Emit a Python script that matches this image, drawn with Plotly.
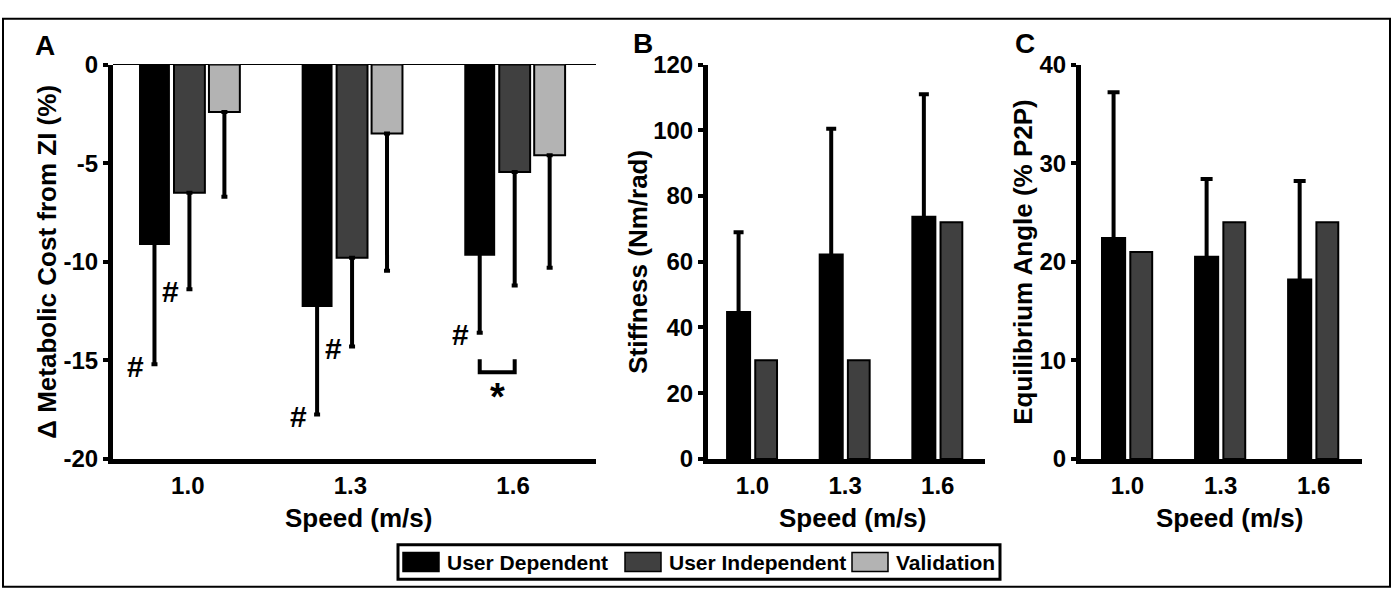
import plotly.graph_objects as go

W, H = 1394, 597

speeds = ["1.0", "1.3", "1.6"]
series = ["User Dependent", "User Independent", "Validation"]
colors = ["#000000", "#404040", "#b3b3b3"]

# Panel A: change in metabolic cost from zero impedance (%)
metab_ud = [-9.15, -12.3, -9.7]
metab_ud_sd = [6.05, 5.45, 3.9]
metab_ui = [-6.5, -9.8, -5.45]
metab_ui_sd = [4.9, 4.5, 5.75]
metab_val = [-2.4, -3.5, -4.6]
metab_val_sd = [4.3, 6.95, 5.7]
metab_ticks = [-20, -15, -10, -5, 0]

# Panel B: stiffness (Nm/rad)
stiff_ud = [45, 62.5, 74]
stiff_ud_sd = [24, 38, 37]
stiff_ui = [30, 30, 72]
stiff_ticks = [0, 20, 40, 60, 80, 100, 120]

# Panel C: equilibrium angle (% P2P)
eq_ud = [22.5, 20.6, 18.3]
eq_ud_sd = [14.7, 7.8, 9.9]
eq_ui = [21, 24, 24]
eq_ticks = [0, 10, 20, 30, 40]

# significance vs zero impedance (#): (series index, speed index)
hash_marks = [(0, 0), (1, 0), (0, 1), (1, 1), (0, 2)]
# significance between user dependent and user independent (*)
star_speed = 2
star_level = [-14.95, -15.6]

FONT = "Liberation Sans, Arial, sans-serif"


def px_x(x):
    return x / W


def px_y(y):
    return 1 - y / H


def hidden_cap(values, frac):
    # keeps the inner cap of a one-sided error bar hidden inside the (black) bar
    return [abs(v) * frac for v in values]


fig = go.Figure()

# ---- Panel A ----
a_off = [-0.30, -0.085, 0.13]
a_wid = 0.19
a_vals = [metab_ud, metab_ui, metab_val]
a_sds = [metab_ud_sd, metab_ui_sd, metab_val_sd]
for i in range(3):
    inner = hidden_cap(a_vals[i], 0.15) if i == 0 else [0, 0, 0]
    fig.add_trace(go.Bar(
        x=speeds, y=a_vals[i], xaxis="x", yaxis="y",
        name=series[i], showlegend=False,
        offset=a_off[i], width=a_wid,
        marker=dict(color=colors[i], line=dict(color="black", width=0 if i == 0 else 2)),
        error_y=dict(type="data", symmetric=False, array=inner, arrayminus=a_sds[i],
                     color="black", thickness=4, width=3),
    ))

# ---- Panel B ----
bc_off = [-0.285, 0.03]
bc_wid = [0.27, 0.235]
fig.add_trace(go.Bar(
    x=speeds, y=stiff_ud, xaxis="x2", yaxis="y2", showlegend=False, name=series[0],
    offset=bc_off[0], width=bc_wid[0],
    marker=dict(color=colors[0], line=dict(color="black", width=0)),
    error_y=dict(type="data", symmetric=False, array=stiff_ud_sd,
                 arrayminus=hidden_cap(stiff_ud, 0.1),
                 color="black", thickness=4, width=5),
))
fig.add_trace(go.Bar(
    x=speeds, y=stiff_ui, xaxis="x2", yaxis="y2", showlegend=False, name=series[1],
    offset=bc_off[1], width=bc_wid[1],
    marker=dict(color=colors[1], line=dict(color="black", width=2)),
))

# ---- Panel C ----
fig.add_trace(go.Bar(
    x=speeds, y=eq_ud, xaxis="x3", yaxis="y3", showlegend=False, name=series[0],
    offset=bc_off[0], width=bc_wid[0],
    marker=dict(color=colors[0], line=dict(color="black", width=0)),
    error_y=dict(type="data", symmetric=False, array=eq_ud_sd,
                 arrayminus=hidden_cap(eq_ud, 0.1),
                 color="black", thickness=4, width=6),
))
fig.add_trace(go.Bar(
    x=speeds, y=eq_ui, xaxis="x3", yaxis="y3", showlegend=False, name=series[1],
    offset=bc_off[1], width=bc_wid[1],
    marker=dict(color=colors[1], line=dict(color="black", width=2)),
))

tickfont = dict(family=FONT, size=24, color="black", weight="bold")
titlefont = dict(family=FONT, size=26, color="black", weight="bold")

top, bottom = 53, 466


def xaxis(dom, rng, ya):
    return dict(domain=[px_x(dom[0]), px_x(dom[1])], type="category", range=rng, anchor=ya,
                showline=True, linewidth=5, linecolor="black", ticks="",
                tickfont=tickfont, ticklabelstandoff=1, showgrid=False, zeroline=False,
                fixedrange=True)


def yaxis(rng, tv, xa, zl=False):
    return dict(domain=[px_y(bottom), px_y(top)], anchor=xa, range=rng, tickvals=tv,
                ticktext=[f"{v:g}" for v in tv],
                showline=True, linewidth=5, linecolor="black", ticks="outside",
                ticklen=5, tickwidth=4, tickcolor="black", tickfont=tickfont,
                showgrid=False, zeroline=zl, zerolinecolor="black", zerolinewidth=1,
                fixedrange=True)


fig.update_layout(
    width=W, height=H, margin=dict(l=0, r=0, t=0, b=0),
    paper_bgcolor="white", plot_bgcolor="white", barmode="overlay",
    font=dict(family=FONT, color="black"),
    xaxis=xaxis([113, 596], [-0.46, 2.51], "y"),
    yaxis=yaxis([metab_ticks[0], metab_ticks[-1]], metab_ticks, "x", zl=True),
    xaxis2=xaxis([708, 985], [-0.48, 2.51], "y2"),
    yaxis2=yaxis([stiff_ticks[0], stiff_ticks[-1]], stiff_ticks, "x2"),
    xaxis3=xaxis([1081, 1362], [-0.5, 2.52], "y3"),
    yaxis3=yaxis([eq_ticks[0], eq_ticks[-1]], eq_ticks, "x3"),
)

ann = []
# '#' marks in panel A
for s, k in hash_marks:
    ann.append(dict(x=k + a_off[s] + a_wid / 2, y=a_vals[s][k] - a_sds[s][k], xref="x", yref="y",
                    text="#", showarrow=False, xanchor="center", yanchor="middle",
                    xshift=-19, yshift=-2, font=dict(family=FONT, size=30, color="black", weight="bold")))

# '*' bracket between UD and UI at 1.6
bx0 = star_speed + a_off[0] + a_wid / 2
bx1 = star_speed + a_off[1] + a_wid / 2
shapes = [dict(type="path", xref="x", yref="y",
               path=f"M {bx0} {star_level[0]} L {bx0} {star_level[1]} L {bx1} {star_level[1]} L {bx1} {star_level[0]}",
               line=dict(color="black", width=4))]
ann.append(dict(x=(bx0 + bx1) / 2, y=star_level[1], xref="x", yref="y", text="*", showarrow=False,
                xanchor="center", yanchor="top", yshift=-2,
                font=dict(family=FONT, size=38, color="black", weight="bold")))

# axis titles
for xc, txt in [(47, "Δ Metabolic Cost from ZI (%)"), (638, "Stiffness (Nm/rad)"),
                (1023, "Equilibrium Angle (% P2P)")]:
    ann.append(dict(x=px_x(xc), y=px_y((top + bottom) / 2), xref="paper", yref="paper", text=txt,
                    textangle=-90, showarrow=False, xanchor="center", yanchor="middle", font=titlefont))
for xc in [358, 852, 1229]:
    ann.append(dict(x=px_x(xc), y=px_y(528), xref="paper", yref="paper", text="Speed (m/s)",
                    showarrow=False, xanchor="center", yanchor="middle", font=titlefont))

# panel letters
for xc, yc, t in [(45, 33, "A"), (643, 31, "B"), (1025, 31, "C")]:
    ann.append(dict(x=px_x(xc), y=px_y(yc), xref="paper", yref="paper", text=t, showarrow=False,
                    xanchor="center", yanchor="middle",
                    font=dict(family=FONT, size=28, color="black", weight="bold")))

# outer frame
shapes.append(dict(type="rect", xref="paper", yref="paper", x0=px_x(3), x1=px_x(1390),
                   y0=px_y(600), y1=px_y(5), line=dict(color="black", width=2)))

# legend box
L = 398
lg_right, lg_top, lg_bot = L + 602, 556, 592
shapes.append(dict(type="rect", xref="paper", yref="paper", x0=px_x(L), x1=px_x(lg_right),
                   y0=px_y(lg_bot), y1=px_y(lg_top), line=dict(color="black", width=3),
                   fillcolor="white"))
item_x = [L + 5, L + 227, L + 454]
for i in range(3):
    shapes.append(dict(type="rect", xref="paper", yref="paper", x0=px_x(item_x[i]),
                       x1=px_x(item_x[i] + 36), y0=px_y(584), y1=px_y(564),
                       fillcolor=colors[i], line=dict(color="black", width=1.5)))
    ann.append(dict(x=px_x(item_x[i] + 42), y=px_y(574), xref="paper", yref="paper", text=series[i],
                    showarrow=False, xanchor="left", yanchor="middle",
                    font=dict(family=FONT, size=21, color="black", weight="bold")))

fig.update_layout(annotations=ann, shapes=shapes)
fig.write_html("out.html", config={"displayModeBar": False, "staticPlot": True},
               post_script="document.body.style.margin='0';document.body.style.overflow='hidden';")
